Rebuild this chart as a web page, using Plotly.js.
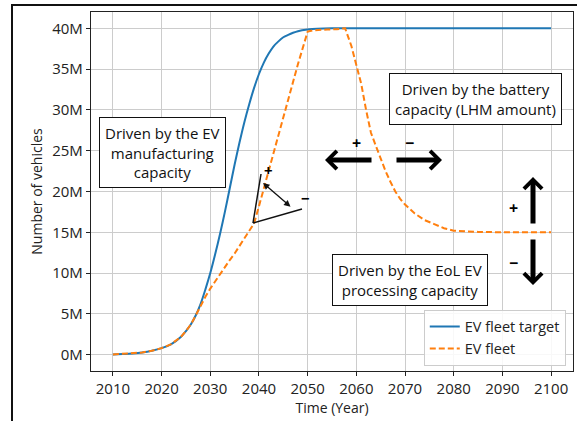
<!DOCTYPE html>
<html>
<head>
<meta charset="utf-8">
<script src="https://cdn.plot.ly/plotly-3.0.1.min.js"></script>
<style>
  html, body { margin: 0; padding: 0; background: #fff; }
  #wrap { position: relative; width: 577px; height: 421px; overflow: hidden; }
  #chart { position: absolute; left: 0; top: 0; width: 577px; height: 421px; }
  #frame { position: absolute; left: 11px; top: 4px; width: 700px; height: 600px;
           border-left: 2px solid #111; border-top: 2px solid #111; pointer-events: none; }
</style>
</head>
<body>
<div id="wrap"><div id="chart"></div><div id="frame"></div></div>
<script>
// ---- data (millions of vehicles) ----
const targetYears = [2010, 2012, 2014, 2016, 2018, 2020, 2022, 2024, 2025, 2026, 2027, 2028, 2029, 2030,
  2031, 2032, 2033, 2034, 2035, 2036, 2037, 2038, 2039, 2040, 2041, 2042, 2043, 2044, 2045, 2046,
  2047, 2048, 2050, 2052, 2055, 2060, 2070, 2080, 2090, 2100];
const targetFleet = [0.03, 0.08, 0.15, 0.27, 0.48, 0.8, 1.3, 2.2, 2.9, 3.7, 4.8, 6.2, 8.0, 10.0,
  12.3, 14.8, 17.5, 20.4, 23.3, 26.0, 28.5, 30.7, 32.7, 34.4, 35.8, 36.9, 37.8, 38.4, 38.9, 39.2,
  39.45, 39.65, 39.85, 39.95, 40.0, 40.0, 40.0, 40.0, 40.0, 40.0];

const fleetYears = [2010, 2012, 2014, 2016, 2018, 2020, 2022, 2024, 2025, 2026, 2027, 2028, 2029, 2030,
  2031, 2032, 2033, 2034, 2035, 2036, 2037, 2038, 2039, 2040, 2041, 2042, 2043, 2044, 2045, 2046,
  2047, 2048, 2049, 2050, 2051, 2052, 2054, 2056, 2057.7, 2059, 2060, 2061, 2062, 2063, 2064, 2065,
  2066, 2067, 2068, 2069, 2070, 2072, 2074, 2076, 2078, 2080, 2085, 2090, 2100];
const fleet = [0.03, 0.08, 0.15, 0.27, 0.48, 0.8, 1.3, 2.2, 2.9, 3.7, 4.8, 6.0, 7.1, 8.1,
  9.0, 9.9, 10.8, 11.6, 12.4, 13.3, 14.2, 15.1, 16.1, 18.2, 20.4, 22.6, 24.8, 27.0, 29.2, 31.4,
  33.6, 35.6, 37.6, 39.6, 39.75, 39.8, 39.85, 39.9, 40.0, 37.8, 35.6, 33.2, 30.0, 27.2, 25.6, 24.0,
  22.5, 21.2, 20.0, 19.1, 18.4, 17.3, 16.5, 16.0, 15.5, 15.2, 15.05, 15.0, 15.0];

const seriesNames = ['EV fleet target', 'EV fleet'];
const boxTexts = ['Driven by the EV<br>manufacturing<br>capacity',
                  'Driven by the battery<br>capacity (LHM amount)',
                  'Driven by the EoL EV<br>processing capacity'];

// ---- pixel helpers for decorations (plot area 91..573 x 12..371) ----
const PL = 91, PR = 573, PT = 12, PB = 371;
const XR = [2005.5, 2104.5], YR = [-2, 42];
const X = px => XR[0] + (px - PL) / (PR - PL) * (XR[1] - XR[0]);
const Y = py => YR[0] + (PB - py) / (PB - PT) * (YR[1] - YR[0]);

const FONT = 'Open Sans, Noto Sans, sans-serif';

const traces = [
  { x: targetYears, y: targetFleet, name: seriesNames[0], mode: 'lines',
    line: { color: '#1f77b4', width: 2, shape: 'spline', smoothing: 0.8 } },
  { x: fleetYears, y: fleet, name: seriesNames[1], mode: 'lines',
    line: { color: '#ff7f0e', width: 2, dash: '6px,3px' } }
];

function box(text, cx, cy) {
  return { text: text, x: X(cx), y: Y(cy), xref: 'x', yref: 'y', showarrow: false,
    font: { family: FONT, size: 15, color: '#111' }, bgcolor: '#fff', bordercolor: '#111',
    borderwidth: 1, borderpad: 5, align: 'center' };
}
function bigArrow(tipx, tipy, tailx, taily) {
  return { x: X(tipx), y: Y(tipy), xref: 'x', yref: 'y', axref: 'pixel', ayref: 'pixel',
    ax: tailx - tipx, ay: taily - tipy, showarrow: true, arrowhead: 4, arrowsize: 0.7,
    arrowwidth: 5, arrowcolor: '#000', text: '' };
}
function sign(t, px, py, size) {
  return { text: t, x: X(px), y: Y(py), xref: 'x', yref: 'y', showarrow: false,
    font: { family: FONT, size: size || 16, color: '#000', weight: 'bold' } };
}

const annotations = [
  box(boxTexts[0], 162, 152),
  box(boxTexts[1], 475.5, 98.5),
  box(boxTexts[2], 410, 279.5),
  bigArrow(325, 160, 373, 160),
  bigArrow(442, 160, 395, 160),
  bigArrow(533, 177, 533, 225),
  bigArrow(533, 285, 533, 238),
  sign('+', 356, 143), sign('−', 409, 143),
  sign('+', 513, 208), sign('−', 513, 263),
  { x: X(263), y: Y(183), xref: 'x', yref: 'y', axref: 'pixel', ayref: 'pixel',
    ax: 29, ay: 25, showarrow: true, arrowside: 'end+start', arrowhead: 2, startarrowhead: 2,
    arrowsize: 1, startarrowsize: 1, arrowwidth: 1.3, arrowcolor: '#111', text: '' },
  sign('+', 268, 170, 15), sign('−', 305, 198, 15)
];

const shapes = [
  { type: 'line', xref: 'x', yref: 'y', x0: X(253), y0: Y(223), x1: X(261), y1: Y(174),
    line: { color: '#111', width: 1.5 } },
  { type: 'line', xref: 'x', yref: 'y', x0: X(253), y0: Y(223), x1: X(302), y1: Y(209),
    line: { color: '#111', width: 1.5 } }
];

const axisCommon = {
  showline: true, mirror: true, linecolor: '#222', linewidth: 1.2,
  showgrid: true, gridcolor: '#cccccc', gridwidth: 1, zeroline: false,
  ticks: 'outside', ticklen: 4, tickcolor: '#222', tickwidth: 1,
  tickfont: { family: FONT, size: 15, color: '#222' }
};

const layout = {
  width: 577, height: 421,
  margin: { l: PL, r: 577 - PR, t: PT, b: 421 - PB },
  paper_bgcolor: '#fff', plot_bgcolor: '#fff',
  showlegend: true,
  legend: { x: 0.985, y: 0.015, xanchor: 'right', yanchor: 'bottom',
    bgcolor: 'rgba(255,255,255,0.85)', bordercolor: '#cccccc', borderwidth: 1,
    font: { family: FONT, size: 14.5, color: '#222' }, tracegroupgap: 0, itemwidth: 30 },
  xaxis: Object.assign({}, axisCommon, { range: XR, tick0: 2010, dtick: 10,
    title: { text: 'Time (Year)', font: { family: FONT, size: 14, color: '#222' }, standoff: 0 } }),
  yaxis: Object.assign({}, axisCommon, { range: YR, tick0: 0, dtick: 5, ticksuffix: 'M',
    title: { text: 'Number of vehicles', font: { family: FONT, size: 14, color: '#222' }, standoff: 6 } }),
  annotations: annotations,
  shapes: shapes
};

Plotly.newPlot('chart', traces, layout, { displayModeBar: false, staticPlot: true });
</script>
</body>
</html>
